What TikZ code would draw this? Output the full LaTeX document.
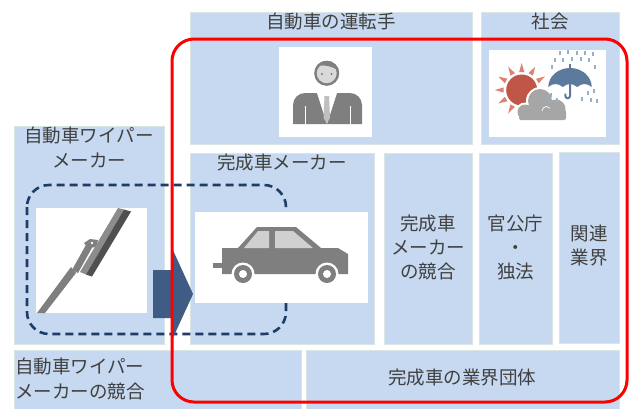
\documentclass[tikz,border=0pt]{standalone}
\usepackage{fontspec}
\newfontfamily\jp{Noto Sans CJK JP}
\usepackage{tikz}
\usetikzlibrary{positioning}

\definecolor{boxfill}{RGB}{198,217,240}
\definecolor{boxline}{RGB}{218,230,230}
\definecolor{txt}{RGB}{64,64,64}
\definecolor{redline}{RGB}{255,0,0}
\definecolor{arrowblue}{RGB}{62,92,132}
\definecolor{dashblue}{RGB}{31,60,105}
\definecolor{cargray}{RGB}{127,127,127}
\definecolor{glass}{RGB}{208,208,208}
\definecolor{headfill}{RGB}{217,217,217}
\definecolor{tiegray}{RGB}{191,191,191}
\definecolor{bladedark}{RGB}{80,80,80}
\definecolor{bladelight}{RGB}{140,140,140}
\definecolor{sunred}{RGB}{192,86,72}
\definecolor{ray}{RGB}{222,130,112}
\definecolor{cloudgray}{RGB}{166,166,166}
\definecolor{umbrella}{RGB}{92,122,158}
\definecolor{rain}{RGB}{150,175,205}

\begin{document}
\begin{tikzpicture}[x=1pt,y=-1pt,
  box/.style={draw=boxline,line width=.6pt,fill=boxfill,inner sep=0pt},
  picbox/.style={fill=white,inner sep=0pt},
  lbl/.style={text=txt,inner sep=0pt,align=center,font=\jp\fontsize{18.5}{24}\selectfont}]

\useasboundingbox (0,0) rectangle (632,408);

\foreach \n/\xa/\ya/\xb/\yb in {driver/190/12/472/144, society/481/12/619/144,
    wipermaker/14/126/164/344, carmaker/190/153/374/344, rivals/384/153/472/344,
    govt/479/153/552/344, related/559/152/619/343,
    wiperrivals/14/350/301/412, association/306/350/619/412}
  \node[box,minimum width=\xb-\xa,minimum height=\yb-\ya] (\n) at ({(\xa+\xb)/2},{(\ya+\yb)/2}) {};

\node[lbl,below=1.5pt of driver.north] (driver-t) {自動車の運転手};
\node[lbl,below=1.5pt of society.north] (society-t) {社会};
\node[lbl,below=1.5pt of wipermaker.north,font=\jp\fontsize{18.5}{25}\selectfont] (wipermaker-t) {自動車ワイパー\\メーカー};
\node[lbl,below=1.5pt of carmaker.north] (carmaker-t) {完成車メーカー};
\node[lbl] (rivals-t) at (428,247) {完成車\\メーカー\\の競合};
\node[lbl] (govt-t) at (515.5,247) {官公庁\\・\\独法};
\node[lbl] (related-t) at (589,246) {関連\\業界};
\node[lbl,align=left,anchor=west,font=\jp\fontsize{18.5}{25}\selectfont] (wiperrivals-t) at (15,378.5) {自動車ワイパー\\メーカーの競合};
\node[lbl] (association-t) at (462,378) {完成車の業界団体};

\draw[dashblue,line width=2.6pt,dash pattern=on 8pt off 5pt,rounded corners=22] (27,185) rectangle (286,334);

\node[picbox,minimum width=93,minimum height=90] (driverpic) at (325.5,92) {};
\node[picbox,minimum width=117,minimum height=87] (weatherpic) at (547.5,93.5) {};
\node[picbox,minimum width=111,minimum height=105] (wiperpic) at (91.5,260.5) {};
\node[picbox,minimum width=173,minimum height=91] (carpic) at (281.5,257.5) {};

\fill[cargray,rounded corners=12] (293,124) -- (293,93) -- (362,93) -- (362,124);
\fill[white] (317,93) -- (337,93) -- (327,124) -- cycle;
\fill[tiegray] (324.5,96) -- (329,96) -- (330,118) -- (326.7,123) -- (323.5,118) -- cycle;
\draw[white,line width=.8pt] (305,106) -- (305,124) (350,106) -- (350,124);
\filldraw[fill=headfill,draw=cargray,line width=2.4pt] (326.7,73.3) circle (11.3);
\begin{scope}
  \clip (326.7,73.3) circle (12.5);
  \fill[cargray] (313,69) .. controls (319,63) and (331,65) .. (341,72) -- (341,58) -- (313,58) -- cycle;
\end{scope}
\fill[cargray] (322,74) circle (1.2) (331.5,74) circle (1.2);

\foreach \a in {0,30,...,330}
  \fill[ray,shift={(521.7,90)},rotate=\a] (18,-2.6) -- (27,0) -- (18,2.6) -- cycle;
\fill[sunred] (521.7,90) circle (15.5);
\fill[white] (540,101) circle (14) (556,109) circle (11.5) (525,112) circle (9.5);
\fill[white,rounded corners=3] (517,108) rectangle (568,122);
\fill[cloudgray] (540,101) circle (12) (556,109) circle (9.5) (525,112) circle (7.5);
\fill[cloudgray,rounded corners=2] (519,110) rectangle (566,120);
\draw[white,line width=.7pt] (542,111) arc[start angle=180,end angle=320,radius=4.5];
\foreach \x/\y in {560/51,568/50,577/51,585/51,593/52,555/58,563/58,572/57,581/57,589/58,
    552/65,595/65,588/91,594/89,591/98,582/97,597/99,551/93,557/98}
  \draw[rain,line width=1.2pt] (\x,\y) -- ++(0,3.5);
\fill[umbrella] (548.3,87) arc[start angle=180,end angle=360,x radius=21.7,y radius=19]
  .. controls (587,83) and (582,83) .. (577.2,87)
  .. controls (572,83) and (567.8,83) .. (562.8,87)
  .. controls (558,83) and (553,83) .. (548.3,87) -- cycle;
\draw[umbrella,line width=2pt] (570,70) -- (570,96) arc[start angle=0,end angle=180,radius=2.3] -- (565.4,93.5);
\draw[umbrella,line width=1.5pt] (570,69) -- (570,64);

\fill[cargray] (37,313) -- (45,313) -- (76,273) -- (71,267) -- cycle;
\fill[cargray] (72,270) -- (78,273) -- (93,246) -- (87,243) -- cycle;
\fill[cargray] (84,243) -- (90,239) -- (98,240) -- (96,247) -- (88,248) -- cycle;
\fill[white] (92,243) circle (1.3);
\fill[bladelight] (118,208) -- (124,209.5) -- (86,274.5) -- (80,272) -- cycle;
\fill[bladedark] (124,209.5) -- (131,211.5) -- (92,276.5) -- (86,274.5) -- cycle;

\fill[cargray] (222,274) -- (222,248) -- (238,248) -- (257,227) -- (296,227)
  -- (321,248) -- (338,248) -- (348,254) -- (348,274) -- cycle;
\fill[cargray] (213,263) rectangle (222,268);
\fill[glass] (244,248) -- (258,231) -- (269,231) -- (269,248) -- cycle;
\fill[glass] (275,248) -- (275,231) -- (293,231) -- (313,248) -- cycle;
\foreach \cx in {243,327} {
  \fill[white] (\cx,274) circle (11.5);
  \fill[cargray] (\cx,274) circle (9);
  \fill[white] (\cx,274) circle (4);
}

\fill[arrowblue] (153,270) -- (172,270) -- (172,248) -- (193,294) -- (172,340) -- (172,318) -- (153,318) -- cycle;

\draw[redline,line width=3pt,rounded corners=22] (172,39) rectangle (627,402);

\end{tikzpicture}
\end{document}
